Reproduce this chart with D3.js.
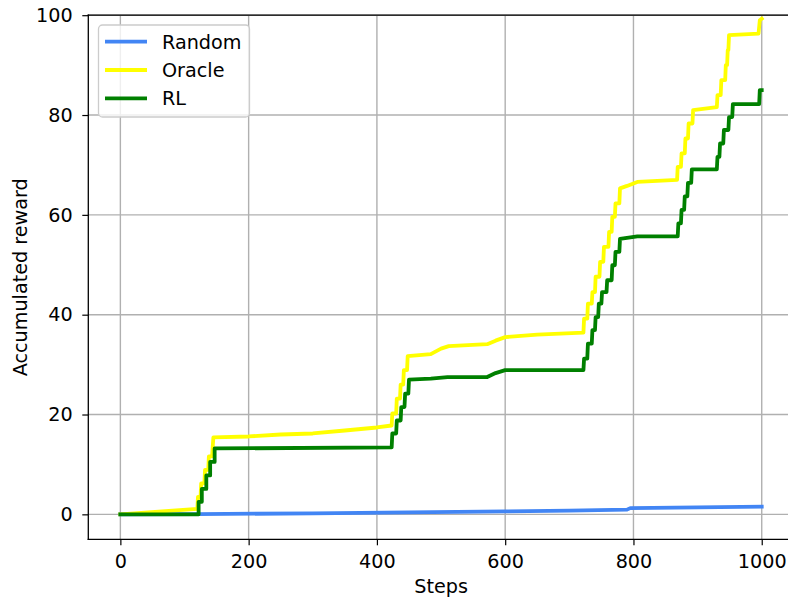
<!DOCTYPE html>
<html>
<head>
<meta charset="utf-8">
<script src="https://cdn.jsdelivr.net/npm/d3@7"></script>
<style>
  html, body { margin: 0; padding: 0; background: #fff; }
  svg { display: block; font-family: "DejaVu Sans", sans-serif; }
</style>
</head>
<body>
<svg id="chart" width="788" height="599"></svg>
<script>
// ---------- data ----------
const seriesNames = ["Random", "Oracle", "RL"];
const seriesColors = ["#4285f4", "#ffff00", "#008000"];

const randomSteps  = [0, 120, 300, 450, 600, 700, 790, 795, 900, 1000];
const randomReward = [0, 0.05, 0.2, 0.4, 0.6, 0.75, 0.95, 1.25, 1.4, 1.55];

const oracleSteps  = [0, 120, 121, 125, 126, 131, 132, 137, 138, 143, 145, 200, 250, 300, 350, 400, 423,
  424, 430, 431, 436, 437, 441, 442, 447, 448, 484, 500, 512, 572, 585, 600, 650, 722,
  723, 728, 729, 735, 736, 740, 741, 747, 748, 753, 754, 761, 762, 766, 767, 771, 772, 778, 779,
  790, 806, 868, 869, 874, 875, 880, 881, 885, 886, 892, 893, 930,
  931, 936, 937, 943, 944, 946, 947, 948, 949, 995, 997, 1000];
const oracleReward = [0, 1.1, 3.5, 3.5, 6.2, 6.2, 8.9, 8.9, 11.6, 11.6, 15.4, 15.6, 16.0, 16.2, 16.8, 17.4, 17.8,
  20.2, 20.2, 23.2, 23.2, 26.0, 26.0, 28.9, 28.9, 31.7, 32.1, 33.2, 33.7, 34.1, 34.8, 35.5, 36.0, 36.4,
  39.2, 39.2, 42.2, 42.2, 44.5, 44.5, 47.6, 47.6, 50.6, 50.6, 53.6, 53.6, 56.6, 56.6, 59.6, 59.6, 62.3, 62.3, 65.3,
  65.8, 66.6, 67.0, 69.6, 69.6, 72.3, 72.3, 75.3, 75.3, 78.3, 78.3, 81.0, 81.6,
  84.0, 84.0, 87.0, 87.0, 90.0, 90.0, 93.0, 93.0, 96.0, 96.3, 99.0, 99.3];

const rlSteps  = [0, 122, 122, 127, 127, 134, 134, 140, 140, 147, 147, 423,
  424, 430, 431, 437, 438, 443, 444, 449, 450, 484, 510, 572, 585, 600, 722,
  723, 728, 729, 735, 736, 740, 741, 745, 746, 750, 751, 758, 759, 766, 767, 771, 772, 778, 779,
  806, 869, 870, 874, 875, 879, 880, 884, 885, 890, 891, 930,
  931, 934, 935, 940, 941, 948, 949, 954, 955, 996, 997, 1000];
const rlReward = [0, 0, 2.5, 2.5, 5.1, 5.1, 7.8, 7.8, 10.5, 10.5, 13.2, 13.4,
  16.2, 16.2, 18.8, 18.8, 21.5, 21.5, 24.2, 24.2, 27.0, 27.2, 27.5, 27.5, 28.3, 28.9, 28.9,
  31.2, 31.2, 34.2, 34.2, 36.9, 36.9, 39.5, 39.5, 42.2, 42.2, 44.5, 44.5, 46.9, 46.9, 49.9, 49.9, 52.6, 52.6, 55.2,
  55.7, 55.7, 58.3, 58.3, 61.0, 61.0, 63.7, 63.7, 66.4, 66.4, 69.1, 69.1,
  71.6, 71.6, 74.3, 74.3, 77.0, 77.0, 79.6, 79.6, 82.2, 82.2, 85.0, 85.0];

const xTicks = [0, 200, 400, 600, 800, 1000];
const yTicks = [0, 20, 40, 60, 80, 100];
const xLabel = "Steps";
const yLabel = "Accumulated reward";

// ---------- layout ----------
const svg = d3.select("#chart");
const pLeft = 88.3, pTop = 15.2, pRight = 793.8, pBottom = 539.3;
const fontSize = 19.2;

const x = d3.scaleLinear().domain([-50, 1050]).range([pLeft, pRight]);
const y = d3.scaleLinear().domain([-5, 100]).range([pBottom, pTop]);

svg.append("defs").append("clipPath").attr("id", "clip")
  .append("rect").attr("x", pLeft).attr("y", pTop - 3).attr("width", pRight - pLeft).attr("height", pBottom - pTop + 3);

// grid
const grid = svg.append("g");
grid.selectAll(".gx").data(xTicks).enter().append("line")
  .attr("x1", d => x(d)).attr("x2", d => x(d)).attr("y1", pTop).attr("y2", pBottom)
  .attr("stroke", "#b0b0b0").attr("stroke-width", 1.4);
grid.selectAll(".gy").data(yTicks).enter().append("line")
  .attr("x1", pLeft).attr("x2", pRight).attr("y1", d => y(d)).attr("y2", d => y(d))
  .attr("stroke", "#b0b0b0").attr("stroke-width", 1.4);

// lines
const series = [
  { name: seriesNames[0], color: seriesColors[0], xs: randomSteps, ys: randomReward },
  { name: seriesNames[1], color: seriesColors[1], xs: oracleSteps, ys: oracleReward },
  { name: seriesNames[2], color: seriesColors[2], xs: rlSteps, ys: rlReward }
];
const line = d3.line().x(d => x(d[0])).y(d => y(d[1]));
const lines = svg.append("g").attr("clip-path", "url(#clip)");
series.forEach(s => {
  const pts = s.xs.map((v, i) => [v, s.ys[i]]);
  lines.append("path").datum(pts)
    .attr("d", line).attr("fill", "none")
    .attr("stroke", s.color).attr("stroke-width", 3.8)
    .attr("stroke-linejoin", "round").attr("stroke-linecap", "square");
});

// axes
const xAxis = d3.axisBottom(x).tickValues(xTicks).tickSize(6).tickPadding(9.4).tickFormat(d3.format("d"));
const yAxis = d3.axisLeft(y).tickValues(yTicks).tickSize(6).tickPadding(9.6).tickFormat(d3.format("d"));

const gx = svg.append("g").attr("transform", `translate(0,${pBottom})`).call(xAxis);
const gy = svg.append("g").attr("transform", `translate(${pLeft},0)`).call(yAxis);
[gx, gy].forEach(g => {
  g.select(".domain").remove();
  g.selectAll("line").attr("stroke", "#000").attr("stroke-width", 1.2);
  g.selectAll("text").attr("fill", "#000").style("font-size", fontSize + "px").style("font-family", "DejaVu Sans");
});

// spines
const spines = [
  [pLeft, pTop, pLeft, pBottom],
  [pLeft, pBottom, pRight, pBottom],
  [pLeft, pTop, pRight, pTop],
  [pRight, pTop, pRight, pBottom]
];
svg.append("g").selectAll("line").data(spines).enter().append("line")
  .attr("x1", d => d[0]).attr("y1", d => d[1]).attr("x2", d => d[2]).attr("y2", d => d[3])
  .attr("stroke", "#000").attr("stroke-width", 1.3).attr("stroke-linecap", "square");

// axis labels
svg.append("text").attr("x", (pLeft + pRight) / 2).attr("y", 593)
  .attr("text-anchor", "middle").style("font-size", fontSize + "px").text(xLabel);
svg.append("text").attr("transform", `translate(27,${(pTop + pBottom) / 2}) rotate(-90)`)
  .attr("text-anchor", "middle").style("font-size", fontSize + "px").text(yLabel);

// legend
const lg = svg.append("g");
lg.append("rect").attr("x", 98.5).attr("y", 25).attr("width", 151).attr("height", 92)
  .attr("rx", 4).attr("fill", "#fff").attr("fill-opacity", 0.8)
  .attr("stroke", "#cccccc").attr("stroke-width", 1.3);
const rowY = [41.7, 70, 98.3];
series.forEach((s, i) => {
  lg.append("line").attr("x1", 105).attr("x2", 147).attr("y1", rowY[i]).attr("y2", rowY[i])
    .attr("stroke", s.color).attr("stroke-width", 3.8);
  lg.append("text").attr("x", 162).attr("y", rowY[i]).attr("dy", "0.36em")
    .style("font-size", fontSize + "px").text(s.name);
});
</script>
</body>
</html>
